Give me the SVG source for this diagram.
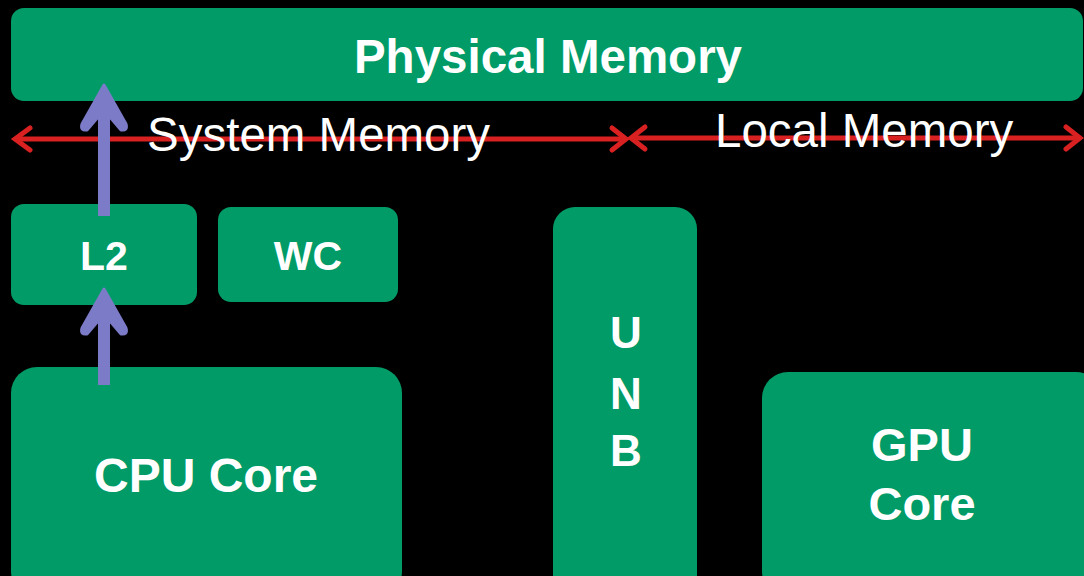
<svg xmlns="http://www.w3.org/2000/svg" width="1084" height="576" viewBox="0 0 1084 576">
<style>
.box{fill:#009b67}
.bt{font-family:"Liberation Sans",Arial,sans-serif;font-weight:bold;fill:#fff;text-anchor:middle}
.lt{font-family:"Liberation Sans",Arial,sans-serif;fill:#fff;font-size:47.5px}
.red{stroke:#d92121;stroke-width:5;fill:none}
.redh{stroke:#d92121;stroke-width:5;fill:none;stroke-linecap:round}
.blue{stroke:#7b7bc8;stroke-width:12;fill:none}
.blueh{fill:#7b7bc8;stroke:#7b7bc8;stroke-width:3;stroke-linejoin:round}
</style>
<rect x="0" y="0" width="1084" height="576" fill="#000"/>
<g id="physical-memory">
<rect class="box" x="11" y="8" width="1072" height="93" rx="13"/>
<text class="bt" x="548" y="73" font-size="47.5px">Physical Memory</text>
</g>
<g id="l2">
<rect class="box" x="11" y="204" width="186" height="101" rx="13"/>
<text class="bt" x="104" y="270" font-size="41px">L2</text>
</g>
<g id="wc">
<rect class="box" x="218" y="207" width="180" height="95" rx="13"/>
<text class="bt" x="308" y="270" font-size="41px">WC</text>
</g>
<g id="unb">
<rect class="box" x="553" y="207" width="144" height="390" rx="22"/>
<text class="bt" x="626" y="348" font-size="44px">U</text>
<text class="bt" x="626" y="409" font-size="44px">N</text>
<text class="bt" x="626" y="466" font-size="44px">B</text>
</g>
<g id="cpu-core">
<rect class="box" x="11" y="367" width="391" height="230" rx="26"/>
<text class="bt" x="206" y="492" font-size="48px">CPU Core</text>
</g>
<g id="gpu-core">
<rect class="box" x="762" y="372" width="340" height="225" rx="26"/>
<text class="bt" x="922" y="461" font-size="47px">GPU</text>
<text class="bt" x="922" y="520" font-size="47px">Core</text>
</g>
<g id="connectors">
<line class="red" x1="16" y1="139" x2="624" y2="139"/>
<polyline class="redh" points="30,128 15,139 30,150"/>
<polyline class="redh" points="612,128 626,139 612,150"/>
<line class="red" x1="632" y1="138" x2="1078" y2="138"/>
<polyline class="redh" points="645,127 631,138 645,149"/>
<polyline class="redh" points="1066,127 1080,138 1066,149"/>
<line class="blue" x1="104" y1="110" x2="104" y2="216"/>
<path class="blueh" d="M104,85 L126,124 Q128,131 121,130 L104,110 L87,130 Q80,131 82,124 Z"/>
<line class="blue" x1="104" y1="312" x2="104" y2="385"/>
<path class="blueh" d="M104,289 L126,328 Q128,335 121,334 L104,314 L87,334 Q80,335 82,328 Z"/>
</g>
<text class="lt" x="147" y="151">System Memory</text>
<text class="lt" x="715" y="147">Local Memory</text>
</svg>
